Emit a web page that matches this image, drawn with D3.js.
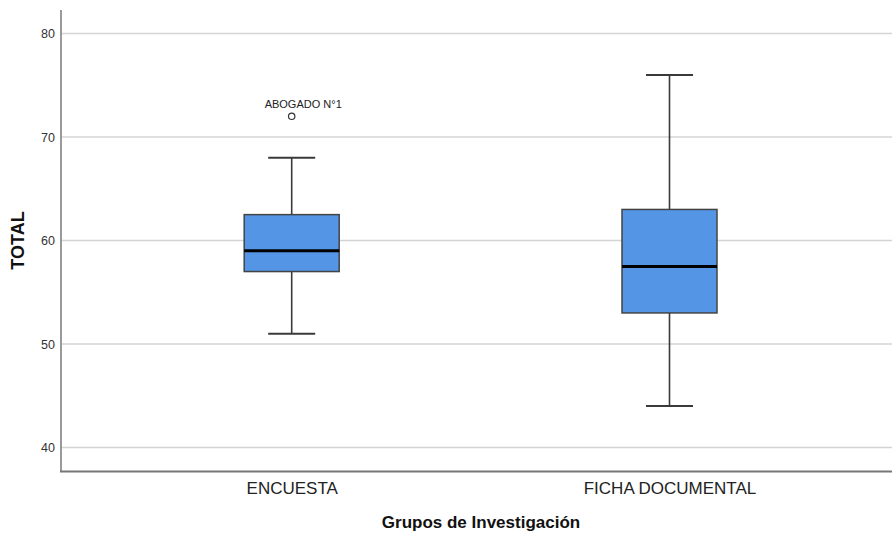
<!DOCTYPE html>
<html>
<head>
<meta charset="utf-8">
<script src="https://cdn.jsdelivr.net/npm/d3@7"></script>
<style>
	body { margin: 0; background: #fff; }
	text { font-family: "Liberation Sans", Arial, sans-serif; }
</style>
</head>
<body>
<script>
// data
var groups = ["ENCUESTA", "FICHA DOCUMENTAL"];
var whiskerLow = [51, 44];
var q1 = [57, 53];
var median = [59, 57.5];
var q3 = [62.5, 63];
var whiskerHigh = [68, 76];
var outlierGroup = ["ENCUESTA"];
var outlierValue = [72];
var outlierLabel = ["ABOGADO N°1"];
var yTicks = [40, 50, 60, 70, 80];

var width = 892, height = 536;
var margin = { top: 10, right: 0, bottom: 65, left: 61 };

var svg = d3.select("body").append("svg")
	.attr("width", width)
	.attr("height", height);

// y scale: 80 -> 33.5, 40 -> 447.5
var yScale = d3.scaleLinear()
	.domain([40, 80])
	.range([447.5, 33.5]);

// centres of the two boxes
var xScale = d3.scalePoint()
	.domain(groups)
	.range([291.7, 669.5]);

var boxW = 95;
var capW = 47;
var axisY = height - margin.bottom + 0.5;

// gridlines
svg.append("g")
	.selectAll("line")
	.data(yTicks)
	.enter()
	.append("line")
	.attr("x1", margin.left)
	.attr("x2", width)
	.attr("y1", function (d) { return yScale(d); })
	.attr("y2", function (d) { return yScale(d); })
	.attr("stroke", "#d4d4d4")
	.attr("stroke-width", 1.5);

// y axis
var yAxis = svg.append("g")
	.attr("transform", "translate(" + margin.left + ",0)")
	.call(d3.axisLeft(yScale).tickValues(yTicks).tickSize(0).tickPadding(6));
yAxis.select(".domain").remove();
yAxis.selectAll("text")
	.attr("font-family", "'Liberation Sans', Arial, sans-serif")
	.attr("font-size", 12.5)
	.attr("fill", "#333");
svg.append("line")
	.attr("x1", margin.left).attr("x2", margin.left)
	.attr("y1", margin.top).attr("y2", axisY)
	.attr("stroke", "#9a9a9a")
	.attr("stroke-width", 2);

// x axis
var xAxis = svg.append("g")
	.attr("transform", "translate(0," + axisY + ")")
	.call(d3.axisBottom(xScale).tickSize(0).tickPadding(10));
xAxis.select(".domain").remove();
xAxis.selectAll("text")
	.attr("font-family", "'Liberation Sans', Arial, sans-serif")
	.attr("font-size", 17)
	.attr("fill", "#222");
svg.append("line")
	.attr("x1", margin.left - 1).attr("x2", width)
	.attr("y1", axisY).attr("y2", axisY)
	.attr("stroke", "#777")
	.attr("stroke-width", 2);

// axis titles
svg.append("text")
	.attr("transform", "translate(24," + yScale(60) + ") rotate(-90)")
	.attr("text-anchor", "middle")
	.attr("font-size", 18)
	.attr("font-weight", "bold")
	.attr("fill", "#111")
	.text("TOTAL");

svg.append("text")
	.attr("x", 481)
	.attr("y", 528)
	.attr("text-anchor", "middle")
	.attr("font-size", 17)
	.attr("font-weight", "bold")
	.attr("fill", "#111")
	.text("Grupos de Investigación");

// boxes
var box = svg.selectAll(".box")
	.data(groups)
	.enter()
	.append("g")
	.attr("class", "box");

// whisker stems
box.append("line")
	.attr("x1", function (d) { return xScale(d); })
	.attr("x2", function (d) { return xScale(d); })
	.attr("y1", function (d, i) { return yScale(whiskerLow[i]); })
	.attr("y2", function (d, i) { return yScale(whiskerHigh[i]); })
	.attr("stroke", "#3a3a3a")
	.attr("stroke-width", 1.6);

// caps
[whiskerLow, whiskerHigh].forEach(function (arr) {
	box.append("line")
		.attr("x1", function (d) { return xScale(d) - capW / 2; })
		.attr("x2", function (d) { return xScale(d) + capW / 2; })
		.attr("y1", function (d, i) { return yScale(arr[i]); })
		.attr("y2", function (d, i) { return yScale(arr[i]); })
		.attr("stroke", "#3a3a3a")
		.attr("stroke-width", 2);
});

box.append("rect")
	.attr("x", function (d) { return xScale(d) - boxW / 2; })
	.attr("width", boxW)
	.attr("y", function (d, i) { return yScale(q3[i]); })
	.attr("height", function (d, i) { return yScale(q1[i]) - yScale(q3[i]); })
	.attr("fill", "#5595e5")
	.attr("stroke", "#444")
	.attr("stroke-width", 1.5);

box.append("line")
	.attr("x1", function (d) { return xScale(d) - boxW / 2; })
	.attr("x2", function (d) { return xScale(d) + boxW / 2; })
	.attr("y1", function (d, i) { return yScale(median[i]); })
	.attr("y2", function (d, i) { return yScale(median[i]); })
	.attr("stroke", "#000")
	.attr("stroke-width", 3);

// outliers
var outliers = svg.selectAll(".outlier")
	.data(outlierValue)
	.enter()
	.append("g")
	.attr("class", "outlier");

outliers.append("circle")
	.attr("cx", function (d, i) { return xScale(outlierGroup[i]); })
	.attr("cy", function (d) { return yScale(d); })
	.attr("r", 3.2)
	.attr("fill", "#fff")
	.attr("stroke", "#333")
	.attr("stroke-width", 1.2);

outliers.append("text")
	.attr("x", function (d, i) { return xScale(outlierGroup[i]) + 11.5; })
	.attr("y", function (d) { return yScale(d) - 8; })
	.attr("text-anchor", "middle")
	.attr("font-size", 11)
	.attr("fill", "#222")
	.text(function (d, i) { return outlierLabel[i]; });
</script>
</body>
</html>
